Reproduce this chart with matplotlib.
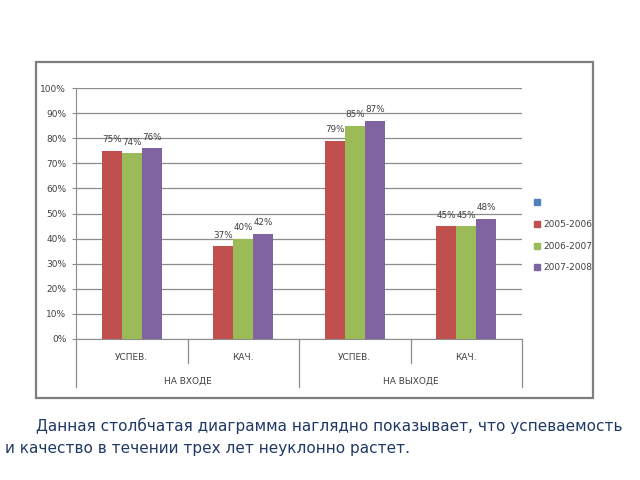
import matplotlib
matplotlib.use("Agg")
import matplotlib.pyplot as plt
from matplotlib.patches import Rectangle
from matplotlib.lines import Line2D
import numpy as np

plt.rcParams['font.family'] = ['Liberation Sans Narrow', 'DejaVu Sans']

categories = ['УСПЕВ.', 'КАЧ.', 'УСПЕВ.', 'КАЧ.']
groups = ['НА ВХОДЕ', 'НА ВЫХОДЕ']
series_names = ['2005-2006', '2006-2007', '2007-2008']
v_2005 = [75, 37, 79, 45]
v_2006 = [74, 40, 85, 45]
v_2007 = [76, 42, 87, 48]
values = [v_2005, v_2006, v_2007]
colors = ['#C0504D', '#9BBB59', '#8064A2']
empty_series_color = '#4F81BD'
yticks = list(range(0, 101, 10))
caption1 = "Данная столбчатая диаграмма наглядно показывает, что успеваемость"
caption2 = "и качество в течении трех лет неуклонно растет."

fig = plt.figure(figsize=(6.4, 4.8), dpi=100)
W, H = 640, 480

# outer chart box
fig.patches.append(Rectangle((36 / W, 1 - 398 / H), (593 - 36) / W, (398 - 62) / H,
                             transform=fig.transFigure, fill=False,
                             edgecolor='#7f7f7f', linewidth=1.6))

ax = fig.add_axes([76 / W, 1 - 339 / H, (522 - 76) / W, (339 - 88) / H])
x = np.arange(len(categories))
bw = 0.179
for i, (vals, c) in enumerate(zip(values, colors)):
    pos = x + (i - 1) * bw
    ax.bar(pos, vals, width=bw, color=c, zorder=3)
    for p, v in zip(pos, vals):
        ax.text(p, v + 2.5, f"{v}%", ha='center', va='bottom', fontsize=6.3,
                color='#404040', zorder=4)

ax.set_xlim(-0.5, len(categories) - 0.5)
ax.set_ylim(0, 100)
ax.set_yticks(yticks)
ax.set_yticklabels([f"{t}%" for t in yticks], fontsize=6.5, color='#404040')
ax.yaxis.grid(True, color='#8c8c8c', linewidth=0.9, zorder=0)
ax.set_xticks([])
for s in ['top', 'right']:
    ax.spines[s].set_visible(False)
ax.spines['left'].set_color('#8c8c8c')
ax.spines['bottom'].set_color('#8c8c8c')
ax.tick_params(axis='y', length=3, color='#8c8c8c', pad=4)

# multi-level category axis
tr = ax.get_xaxis_transform()
axh = 339 - 88
inner = -24 / axh
outer = -48 / axh
for xb in [-0.5, 1.5, 3.5]:
    ax.plot([xb, xb], [0, outer], transform=tr, clip_on=False, color='#8c8c8c', linewidth=0.9)
for xb in [0.5, 2.5]:
    ax.plot([xb, xb], [0, inner], transform=tr, clip_on=False, color='#8c8c8c', linewidth=0.9)
for xi, lab in zip(x, categories):
    ax.text(xi, -18 / axh, lab, transform=tr, ha='center', va='center', fontsize=6.5, color='#404040')
for gi, g in enumerate(groups):
    ax.text(gi * 2 + 0.5, -42 / axh, g, transform=tr, ha='center', va='center', fontsize=6.5, color='#404040')

# legend
handles = [Line2D([], [], linestyle='none', marker='s', markersize=4.5, color=empty_series_color)]
labels = ['']
for n, c in zip(series_names, colors):
    handles.append(Line2D([], [], linestyle='none', marker='s', markersize=4.5, color=c))
    labels.append(n)
fig.legend(handles, labels, loc='upper left', bbox_to_anchor=(529 / W, 1 - 194 / H),
           frameon=False, fontsize=6.5, handlelength=0.8, handletextpad=0.3,
           labelspacing=1.4, borderpad=0, labelcolor='#404040')

# caption, sized so the first line spans the same width as in the reference
t1 = fig.text(36 / W, 1 - 426 / H, caption1, fontsize=11, color='#1F3864', va='center',
              family=['DejaVu Sans'])
fig.canvas.draw()
w = t1.get_window_extent().width
fs = 11 * 585 / w
t1.set_fontsize(fs)
fig.text(5 / W, 1 - 448 / H, caption2, fontsize=fs, color='#1F3864', va='center',
         family=['DejaVu Sans'])

fig.savefig('out.png', dpi=100)
